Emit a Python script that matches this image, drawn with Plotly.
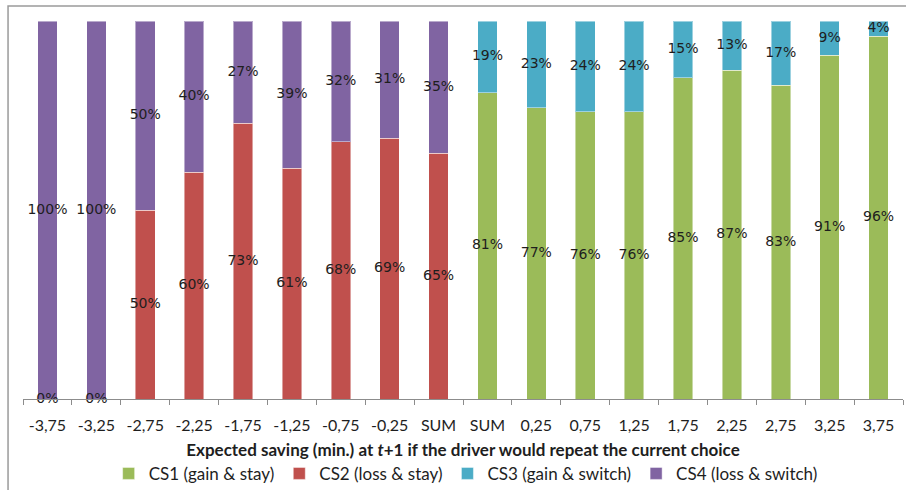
import plotly.graph_objects as go

# Category labels along the x axis (two "SUM" columns, one per side)
tick_labels = ["-3,75", "-3,25", "-2,75", "-2,25", "-1,75", "-1,25", "-0,75", "-0,25", "SUM",
               "SUM", "0,25", "0,75", "1,25", "1,75", "2,25", "2,75", "3,25", "3,75"]

# Shares in percent; None where a class does not occur in that column
cs1_gain_stay = [None] * 9 + [81, 77, 76, 76, 85, 87, 83, 91, 96]
cs2_loss_stay = [0, 0, 50, 60, 73, 61, 68, 69, 65] + [None] * 9
cs3_gain_switch = [None] * 9 + [19, 23, 24, 24, 15, 13, 17, 9, 4]
cs4_loss_switch = [100, 100, 50, 40, 27, 39, 32, 31, 35] + [None] * 9

series = [
    ("CS1 (gain & stay)", cs1_gain_stay, "#9BBB59"),
    ("CS2 (loss & stay)", cs2_loss_stay, "#C0504D"),
    ("CS3 (gain & switch)", cs3_gain_switch, "#4BACC6"),
    ("CS4 (loss & switch)", cs4_loss_switch, "#8064A2"),
]

x = list(range(len(tick_labels)))

fig = go.Figure()

for name, vals, color in series:
    fig.add_trace(go.Bar(
        x=x, y=vals, name=name,
        marker=dict(color=color, line=dict(color="rgba(255,255,255,0.45)", width=1)),
        width=0.4,
    ))

# Percentage labels centred on each stacked segment
base = [0.0] * len(x)
for name, vals, color in series:
    lx, ly, lt = [], [], []
    for i, v in enumerate(vals):
        if v is None:
            continue
        lx.append(i)
        ly.append(base[i] + v / 2)
        lt.append(f"{v}%")
        base[i] += v
    fig.add_trace(go.Scatter(
        x=lx, y=ly, text=lt, mode="text", showlegend=False, hoverinfo="skip",
        textfont=dict(family="DejaVu Sans", size=14, color="#1e1e1e"),
        textposition="middle center", cliponaxis=False,
    ))

# Chart frame
fig.add_shape(type="rect", xref="paper", yref="paper",
              x0=-0.017, x1=1.2, y0=-0.5, y1=1.0397,
              line=dict(color="#9a9a9a", width=1.5), fillcolor="rgba(0,0,0,0)", layer="below")

fig.update_layout(
    width=906, height=490,
    margin=dict(l=23, r=3, t=21, b=91, autoexpand=False),
    barmode="stack",
    plot_bgcolor="white", paper_bgcolor="white",
    font=dict(family="Lato", size=16, color="#1e1e1e"),
    showlegend=True,
    legend=dict(orientation="h", x=0.503, xanchor="center", y=-0.198, yanchor="middle",
                traceorder="normal", font=dict(family="Lato", size=17, color="#1e1e1e"),
                itemclick=False, bgcolor="rgba(0,0,0,0)"),
    xaxis=dict(
        range=[-0.5, len(x) - 0.5], automargin=False,
        tickvals=x, ticktext=tick_labels,
        ticks="outside", ticklen=12, tickcolor="rgba(0,0,0,0)",
        tickfont=dict(family="Lato", size=16, color="#1e1e1e"),
        showline=True, linecolor="#8c8c8c", linewidth=1,
        showgrid=False, zeroline=False,
        minor=dict(tickvals=[i - 0.5 for i in range(len(x) + 1)], ticks="outside",
                   ticklen=5, tickcolor="#8c8c8c", showgrid=False),
        title=dict(text="<b>Expected saving (min.) at <i>t</i>+1 if the driver would repeat the current choice</b>",
                   font=dict(family="Lato", size=17, color="#1e1e1e"), standoff=10),
    ),
    yaxis=dict(range=[0, 100], visible=False),
)

fig.write_html("out.html")
